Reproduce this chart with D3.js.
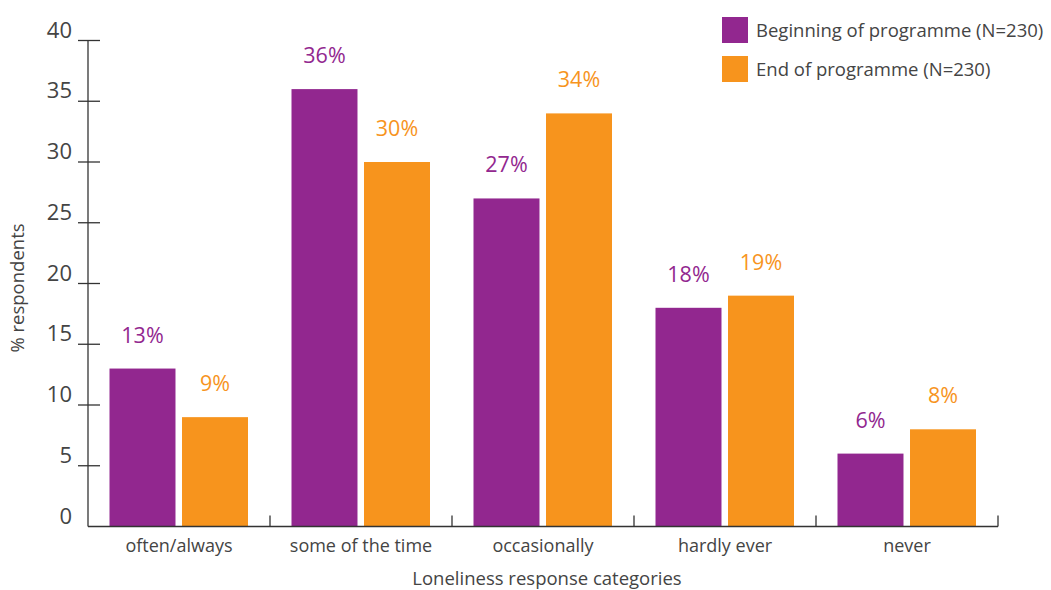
<!DOCTYPE html>
<html>
<head>
<meta charset="utf-8">
<script src="https://cdn.jsdelivr.net/npm/d3@7"></script>
<style>
  html, body { margin: 0; padding: 0; background: #fff; }
  svg { display: block; font-family: "Open Sans", Lato, sans-serif; }
</style>
</head>
<body>
<svg id="chart" width="1051" height="590"></svg>
<script>
const categories = ["often/always", "some of the time", "occasionally", "hardly ever", "never"];
const seriesNames = ["Beginning of programme (N=230)", "End of programme (N=230)"];
const beginningValues = [13, 36, 27, 18, 6];
const endValues = [9, 30, 34, 19, 8];
const yTickValues = [0, 5, 10, 15, 20, 25, 30, 35, 40];
const colors = ["#92278F", "#F7941D"];

const svg = d3.select("#chart");
const textColor = "#444";
const axisColor = "#333";

const x0 = d3.scaleBand().domain(categories).range([88, 998]).padding(0);
const x1 = d3.scaleBand().domain([0, 1]).range([21.5, 160]).paddingInner(0.09).paddingOuter(0);
const y = d3.scaleLinear().domain([0, 40]).range([526.5, 40.5]);

const rows = categories.map((c, i) => ({ cat: c, vals: [beginningValues[i], endValues[i]] }));

// bars
const g = svg.append("g");
rows.forEach(r => {
  r.vals.forEach((v, s) => {
    g.append("rect")
      .attr("x", x0(r.cat) + x1(s))
      .attr("y", y(v))
      .attr("width", x1.bandwidth())
      .attr("height", y(0) - y(v))
      .attr("fill", colors[s]);
    g.append("text")
      .attr("x", x0(r.cat) + x1(s) + x1.bandwidth() / 2)
      .attr("y", y(v) - 26)
      .attr("text-anchor", "middle")
      .attr("font-size", 21.5)
      .attr("fill", colors[s])
      .text(v + "%");
  });
});

// y axis
const ax = svg.append("g");
ax.append("line").attr("x1", 88).attr("x2", 88).attr("y1", y(40)).attr("y2", y(0))
  .attr("stroke", axisColor).attr("stroke-width", 1.3);
yTickValues.forEach(t => {
  if (t > 0) {
    ax.append("line").attr("x1", 78).attr("x2", 100).attr("y1", y(t)).attr("y2", y(t))
      .attr("stroke", axisColor).attr("stroke-width", 1.3);
  }
  ax.append("text").attr("x", 72).attr("y", y(t) - 3).attr("text-anchor", "end")
    .attr("font-size", 22).attr("fill", textColor).text(t);
});

// x axis
ax.append("line").attr("x1", 88).attr("x2", 998).attr("y1", y(0)).attr("y2", y(0))
  .attr("stroke", axisColor).attr("stroke-width", 1.3);
const boundaries = categories.map(c => x0(c)).concat([x0.range()[1]]);
boundaries.slice(1).forEach(bx => {
  ax.append("line").attr("x1", bx).attr("x2", bx).attr("y1", y(0)).attr("y2", y(0) - 11)
    .attr("stroke", axisColor).attr("stroke-width", 1.3);
});
categories.forEach(c => {
  ax.append("text").attr("x", x0(c) + x0.bandwidth() / 2).attr("y", 552)
    .attr("text-anchor", "middle").attr("font-size", 18).attr("fill", textColor).text(c);
});

// axis titles
svg.append("text").attr("x", 547).attr("y", 584.5).attr("text-anchor", "middle")
  .attr("font-size", 18.5).attr("fill", textColor).text("Loneliness response categories");
svg.append("text").attr("transform", "translate(24,288) rotate(-90)").attr("text-anchor", "middle")
  .attr("font-size", 18.5).attr("fill", textColor).text("% respondents");

// legend
seriesNames.forEach((name, i) => {
  const ly = 17 + i * 39;
  svg.append("rect").attr("x", 722).attr("y", ly).attr("width", 26).attr("height", 26).attr("fill", colors[i]);
  svg.append("text").attr("x", 756).attr("y", ly + 19.5).attr("font-size", 18.5)
    .attr("fill", textColor).text(name);
});
</script>
</body>
</html>
